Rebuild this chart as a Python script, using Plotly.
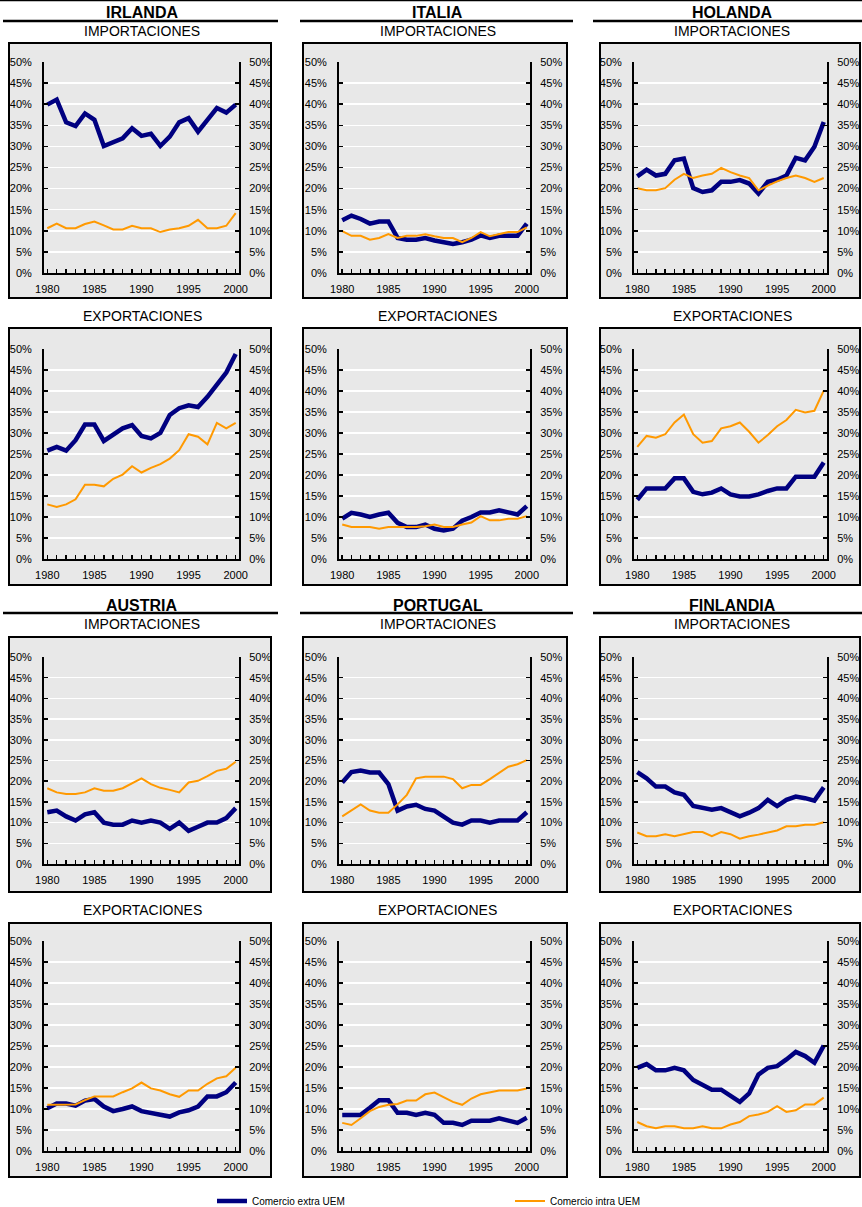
import plotly.graph_objects as go

years = list(range(1980, 2001))

# ---- data (% of total), extra UEM = navy, intra UEM = orange ----
irlanda_imp_extra = [39.9, 41.1, 35.7, 34.8, 37.8, 36.3, 30.1, 31.1, 31.9, 34.3, 32.5, 33.0, 30.1, 32.3, 35.7, 36.7, 33.5, 36.3, 39.1, 38.0, 39.9]
irlanda_imp_intra = [10.6, 11.7, 10.6, 10.6, 11.6, 12.2, 11.3, 10.3, 10.3, 11.2, 10.6, 10.6, 9.7, 10.3, 10.6, 11.2, 12.6, 10.6, 10.6, 11.2, 14.2]
irlanda_exp_extra = [25.8, 26.7, 25.8, 28.3, 32.0, 32.0, 28.1, 29.7, 31.1, 31.9, 29.3, 28.7, 30.0, 34.3, 35.9, 36.6, 36.2, 38.6, 41.4, 44.4, 48.8]
irlanda_exp_intra = [13.0, 12.4, 13.0, 14.2, 17.7, 17.7, 17.3, 19.1, 20.1, 22.1, 20.6, 21.7, 22.6, 23.9, 25.9, 29.7, 29.1, 27.3, 32.4, 31.1, 32.4]

italia_imp_extra = [12.5, 13.6, 12.8, 11.7, 12.2, 12.2, 8.3, 7.9, 7.9, 8.3, 7.7, 7.3, 6.9, 7.3, 7.9, 8.9, 8.3, 8.8, 8.8, 8.8, 11.7]
italia_imp_intra = [9.9, 8.8, 8.8, 7.9, 8.3, 9.2, 8.3, 8.8, 8.8, 9.2, 8.7, 8.3, 8.3, 7.3, 8.3, 9.7, 8.7, 9.2, 9.7, 9.7, 10.8]
italia_exp_extra = [9.6, 11.0, 10.6, 10.0, 10.6, 11.0, 8.6, 7.6, 7.6, 8.2, 7.2, 6.8, 7.2, 9.1, 10.0, 11.1, 11.1, 11.6, 11.1, 10.6, 12.6]
italia_exp_intra = [8.2, 7.6, 7.6, 7.6, 7.2, 7.6, 7.6, 7.6, 7.6, 7.8, 8.2, 7.6, 7.6, 8.2, 8.7, 10.2, 9.2, 9.2, 9.6, 9.6, 10.2]

holanda_imp_extra = [22.9, 24.5, 23.1, 23.5, 26.7, 27.1, 20.1, 19.2, 19.6, 21.6, 21.6, 22.0, 21.2, 18.8, 21.6, 22.1, 23.1, 27.3, 26.7, 29.9, 35.8]
holanda_imp_intra = [20.1, 19.6, 19.6, 20.1, 22.1, 23.5, 22.5, 23.1, 23.5, 24.9, 23.9, 23.1, 22.5, 19.6, 20.7, 21.7, 22.5, 23.1, 22.5, 21.6, 22.5]
holanda_exp_extra = [14.1, 16.8, 16.8, 16.8, 19.2, 19.2, 16.0, 15.4, 15.8, 16.8, 15.4, 14.9, 14.9, 15.4, 16.2, 16.8, 16.8, 19.6, 19.6, 19.6, 23.0]
holanda_exp_intra = [26.7, 29.3, 28.9, 29.7, 32.5, 34.4, 29.7, 27.7, 28.1, 31.1, 31.6, 32.5, 30.3, 27.7, 29.5, 31.6, 33.1, 35.5, 34.9, 35.3, 40.1]

austria_imp_extra = [12.5, 12.9, 11.5, 10.5, 12.0, 12.5, 10.0, 9.5, 9.5, 10.5, 10.0, 10.5, 10.0, 8.5, 10.0, 8.0, 9.0, 10.0, 10.0, 11.1, 13.5]
austria_imp_intra = [18.3, 17.3, 16.9, 16.9, 17.3, 18.3, 17.7, 17.7, 18.3, 19.5, 20.7, 19.3, 18.4, 17.9, 17.3, 19.7, 20.1, 21.2, 22.5, 23.0, 24.7]
austria_exp_extra = [10.2, 11.3, 11.3, 10.8, 12.0, 12.4, 10.6, 9.5, 10.0, 10.6, 9.5, 9.1, 8.7, 8.2, 9.2, 9.7, 10.6, 13.0, 13.0, 14.0, 16.3]
austria_exp_intra = [11.0, 11.0, 11.0, 11.1, 12.1, 13.0, 13.0, 13.0, 14.0, 14.9, 16.3, 14.9, 14.4, 13.5, 12.9, 14.4, 14.4, 16.0, 17.3, 17.8, 19.8]

portugal_imp_extra = [19.7, 22.2, 22.6, 22.1, 22.1, 19.3, 12.9, 13.9, 14.3, 13.3, 12.9, 11.5, 10.0, 9.5, 10.5, 10.5, 10.0, 10.5, 10.5, 10.5, 12.5]
portugal_imp_intra = [11.5, 12.9, 14.4, 12.9, 12.4, 12.4, 14.4, 16.7, 20.7, 21.1, 21.1, 21.1, 20.5, 18.3, 19.1, 19.1, 20.5, 21.9, 23.5, 24.1, 25.1]
portugal_exp_extra = [8.6, 8.6, 8.6, 10.3, 12.1, 12.1, 9.1, 9.1, 8.6, 9.1, 8.6, 6.7, 6.7, 6.2, 7.2, 7.2, 7.2, 7.8, 7.2, 6.7, 7.9]
portugal_exp_intra = [6.7, 6.2, 7.8, 9.5, 10.5, 11.0, 11.2, 12.0, 12.0, 13.5, 13.9, 12.7, 11.7, 11.0, 12.5, 13.5, 13.9, 14.4, 14.4, 14.4, 14.9]

finlandia_imp_extra = [22.2, 20.7, 18.7, 18.7, 17.3, 16.7, 14.0, 13.5, 13.1, 13.5, 12.5, 11.5, 12.4, 13.5, 15.5, 14.0, 15.5, 16.3, 15.9, 15.3, 18.5]
finlandia_imp_intra = [7.6, 6.7, 6.7, 7.2, 6.7, 7.2, 7.7, 7.7, 6.7, 7.7, 7.2, 6.1, 6.7, 7.1, 7.6, 8.1, 9.1, 9.1, 9.5, 9.5, 10.1]
finlandia_exp_extra = [19.8, 20.7, 19.2, 19.2, 19.8, 19.2, 16.9, 15.7, 14.6, 14.6, 13.1, 11.7, 13.7, 18.2, 19.8, 20.2, 21.8, 23.6, 22.6, 21.0, 25.1]
finlandia_exp_intra = [6.9, 5.9, 5.4, 5.9, 5.9, 5.4, 5.4, 5.9, 5.4, 5.4, 6.3, 6.9, 8.3, 8.7, 9.3, 10.7, 9.3, 9.7, 11.1, 11.1, 12.7]

countries = ["IRLANDA", "ITALIA", "HOLANDA", "AUSTRIA", "PORTUGAL", "FINLANDIA"]
flows = ["IMPORTACIONES", "EXPORTACIONES"]
series_names = ["Comercio extra UEM", "Comercio intra UEM"]
y_ticks = list(range(0, 51, 5))

# panels: (country index, flow index, extra, intra)
panels = [
    (0, 0, irlanda_imp_extra, irlanda_imp_intra),
    (1, 0, italia_imp_extra, italia_imp_intra),
    (2, 0, holanda_imp_extra, holanda_imp_intra),
    (0, 1, irlanda_exp_extra, irlanda_exp_intra),
    (1, 1, italia_exp_extra, italia_exp_intra),
    (2, 1, holanda_exp_extra, holanda_exp_intra),
    (3, 0, austria_imp_extra, austria_imp_intra),
    (4, 0, portugal_imp_extra, portugal_imp_intra),
    (5, 0, finlandia_imp_extra, finlandia_imp_intra),
    (3, 1, austria_exp_extra, austria_exp_intra),
    (4, 1, portugal_exp_extra, portugal_exp_intra),
    (5, 1, finlandia_exp_extra, finlandia_exp_intra),
]

# ---- layout geometry (pixels) ----
W, H = 862, 1207
col_plot = [(44, 239), (339, 530), (634, 827)]
col_box = [(9, 271), (303, 567), (600, 860)]
col_rule = [(3, 278), (300, 573), (593, 862)]
col_center = [142, 438, 732]
row_plot = [(62, 273), (349, 559), (657, 864), (941, 1151)]
row_box = [(43, 298), (328, 585), (637, 892), (923, 1177)]
sub_y = [31, 316, 624, 910]
title_y = {0: 12, 2: 605}
rule_y = {0: 21, 2: 613}

NAVY = "#000080"
ORANGE = "#FF9900"
FONT = "Liberation Sans, Arial, sans-serif"


def px(x):
    return x / W


def py(y):
    return 1 - y / H


fig = go.Figure()
layout = {}
shapes = []
annotations = []

for k, (ci, fi, extra, intra) in enumerate(panels):
    r, c = divmod(k, 3)
    xn = "" if k == 0 else str(k + 1)
    yl = "" if k == 0 else str(2 * k + 1)
    yr = str(2 * k + 2)

    fig.add_trace(go.Scatter(
        x=years, y=extra, mode="lines", name=series_names[0],
        line=dict(color=NAVY, width=4.5), xaxis="x" + xn, yaxis="y" + yl,
        showlegend=(k == 0), legendrank=1, hoverinfo="skip"))
    fig.add_trace(go.Scatter(
        x=years, y=intra, mode="lines", name=series_names[1],
        line=dict(color=ORANGE, width=2), xaxis="x" + xn, yaxis="y" + yr,
        showlegend=(k == 0), legendrank=2, hoverinfo="skip"))

    x0, x1 = col_plot[c]
    yt, yb = row_plot[r]
    layout["xaxis" + xn] = dict(
        domain=[px(x0), px(x1)], anchor="y" + yl,
        range=[1979.65, 2000.35], tick0=1980, dtick=5,
        ticks="inside", ticklen=4, tickwidth=1.5, tickcolor="black",
        minor=dict(dtick=1, tick0=1980, ticks="inside", ticklen=4,
                   tickwidth=1.5, tickcolor="black", showgrid=False),
        showline=True, linecolor="black", linewidth=2,
        showgrid=False, zeroline=False, ticklabelstandoff=5,
        tickfont=dict(family=FONT, size=11, color="black"), fixedrange=True)
    common_y = dict(
        domain=[py(yb), py(yt)], anchor="x" + xn, range=[0, 50],
        tickvals=y_ticks, ticktext=[f"{v}%" for v in y_ticks],
        ticks="inside", ticklen=4, tickwidth=1.5, tickcolor="black",
        showline=True, linecolor="black", linewidth=2, zeroline=False,
        tickfont=dict(family=FONT, size=11, color="black"), fixedrange=True)
    layout["yaxis" + yl] = dict(common_y, side="left", showgrid=True,
                                gridcolor="white", gridwidth=1.5,
                                ticklabelstandoff=8)
    layout["yaxis" + yr] = dict(common_y, side="right",
                                overlaying="y" + yl, showgrid=False,
                                ticklabelstandoff=6)

    # grey panel box
    bx0, bx1 = col_box[c]
    by0, by1 = row_box[r]
    shapes.append(dict(type="rect", xref="paper", yref="paper",
                       x0=px(bx0), x1=px(bx1), y0=py(by1), y1=py(by0),
                       fillcolor="#E8E8E8", line=dict(color="black", width=2),
                       layer="below"))
    # flow subtitle
    annotations.append(dict(text=flows[fi], xref="paper", yref="paper",
                            x=px(col_center[c]), y=py(sub_y[r]),
                            xanchor="center", yanchor="middle", showarrow=False,
                            font=dict(family=FONT, size=14, color="black")))
    # country title and rule
    if r in title_y:
        annotations.append(dict(text=f"<b>{countries[ci]}</b>", xref="paper",
                                yref="paper", x=px(col_center[c]),
                                y=py(title_y[r]), xanchor="center",
                                yanchor="middle", showarrow=False,
                                font=dict(family=FONT, size=16, color="black")))
        rx0, rx1 = col_rule[c]
        shapes.append(dict(type="line", xref="paper", yref="paper",
                           x0=px(rx0), x1=px(rx1), y0=py(rule_y[r]),
                           y1=py(rule_y[r]),
                           line=dict(color="black", width=2.5)))

# top rule
shapes.append(dict(type="line", xref="paper", yref="paper", x0=0, x1=1,
                   y0=py(0.5), y1=py(0.5), line=dict(color="black", width=1.5)))

fig.update_layout(
    **layout,
    width=W, height=H,
    margin=dict(l=0, r=0, t=0, b=0, pad=0, autoexpand=False),
    paper_bgcolor="white", plot_bgcolor="rgba(0,0,0,0)",
    shapes=shapes, annotations=annotations,
    showlegend=True,
    legend=dict(orientation="h", x=px(212), y=py(1201), xanchor="left",
                yanchor="middle", entrywidth=253, entrywidthmode="pixels",
                font=dict(family=FONT, size=10, color="black"),
                bgcolor="rgba(0,0,0,0)"),
)

fig.write_html(
    "out.html",
    config={"displayModeBar": False, "staticPlot": True},
    post_script="document.body.style.margin='0';"
                "document.body.style.overflow='hidden';",
)
